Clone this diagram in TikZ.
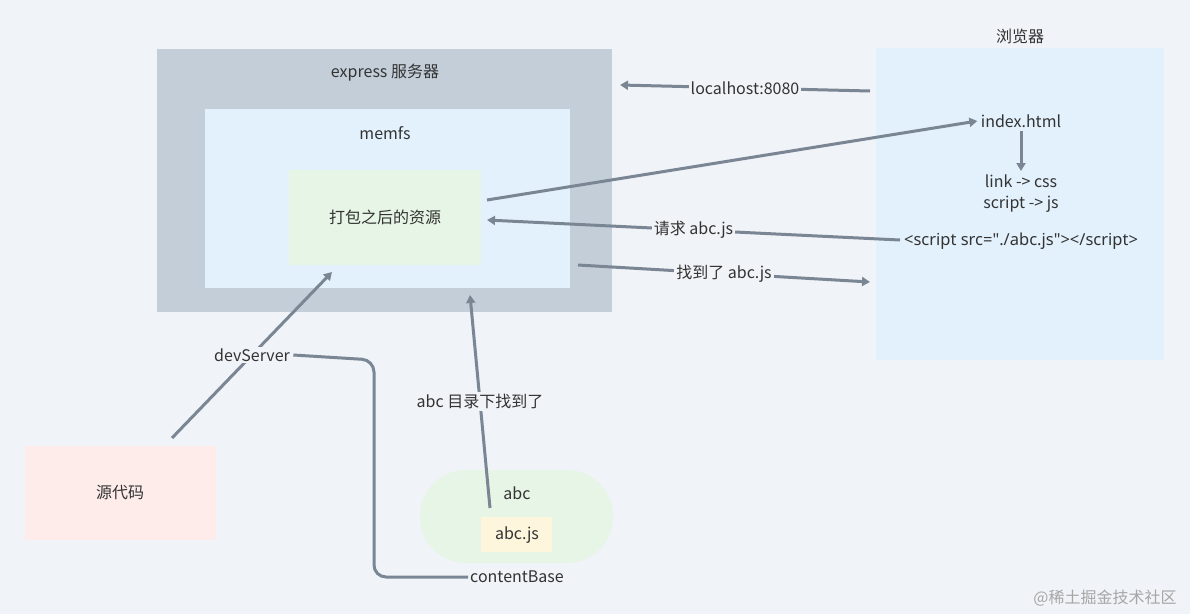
\documentclass[tikz,border=0pt]{standalone}
\usepackage{fontspec}
\setmainfont{Noto Sans CJK SC}
\newfontfamily\latn{Noto Sans}
\usetikzlibrary{arrows.meta}
\definecolor{bg}{HTML}{F0F3F7}
\definecolor{gbox}{HTML}{C3CED8}
\definecolor{bbox}{HTML}{E3F1FC}
\definecolor{grn}{HTML}{E6F5E5}
\definecolor{pnk}{HTML}{FDECEA}
\definecolor{ylw}{HTML}{FDF6DC}
\definecolor{ln}{HTML}{7A8694}
\definecolor{tx}{HTML}{333333}
\begin{document}
\begin{tikzpicture}[x=1pt,y=-1pt,
  every node/.style={font=\fontsize{16}{19}\selectfont, text=tx},
  lbl/.style={fill=bg, inner sep=2pt},
  conn/.style={draw=ln, line width=3pt, -{Triangle[length=8pt,width=9pt]}},
  plain/.style={draw=ln, line width=3pt}]
\fill[bg] (0,0) rectangle (1190,614);
\useasboundingbox (0,0) rectangle (1190,614);
\fill[gbox] (157,49) rectangle (612,312);
\fill[bbox] (205,109) rectangle (570,288);
\fill[grn] (289,170) rectangle (481,265);
\fill[bbox] (876,48) rectangle (1164,360);
\fill[pnk] (25,446) rectangle (216,540);
\fill[grn,rounded corners=46pt] (420,470) rectangle (613,563);
\fill[ylw] (481,517) rectangle (552,552);
\node (exp) at (385,73) {express 服务器};
\node (mem) at (385,133) {memfs};
\node (res) at (385,217) {打包之后的资源};
\node (brw) at (1020,36) {浏览器};
\node (idx) at (1021,121) {index.html};
\node (lnk) at (1021,181) {link -> css};
\node (scr) at (1021,204) {script -> js};
\node[font=\latn\fontsize{16.5}{19}\selectfont] (tag) at (1021,241) {<script src="./abc.js"></script>};
\node (src) at (120,493) {源代码};
\node (abc) at (517,493) {abc};
\node (abcjs) at (517,535) {abc.js};
\node[text=gray!70] (wm) at (1105,598) {@稀土掘金技术社区};
\coordinate (b1) at (870,91); \coordinate (e1) at (620,85);
\draw[conn] (b1) -- node[lbl] {localhost:8080} (e1);
\coordinate (r1) at (487,200);
\draw[conn] (r1) -- (idx.west);
\draw[conn] (idx.south) -- (lnk.north);
\coordinate (t1) at (900,240); \coordinate (r2) at (487,220);
\draw[conn] (t1) -- node[lbl,pos=0.5] {请求 abc.js} (r2);
\coordinate (m1) at (578,265); \coordinate (b2) at (870,282);
\draw[conn] (m1) -- node[lbl,pos=0.5] {找到了 abc.js} (b2);
\coordinate (s1) at (172,438); \coordinate (r3) at (332,272);
\draw[conn] (s1) -- node[lbl] (dev) {devServer} (r3);
\coordinate (a1) at (490,508); \coordinate (m2) at (470,295);
\draw[conn] (a1) -- node[lbl,pos=0.5] {abc 目录下找到了} (m2);
\node[lbl] (cb) at (517,577) {contentBase};
\draw[plain, rounded corners=12pt] (dev.east) -- (374,360) -- (374,577) -- (cb.west);
\end{tikzpicture}
\end{document}
